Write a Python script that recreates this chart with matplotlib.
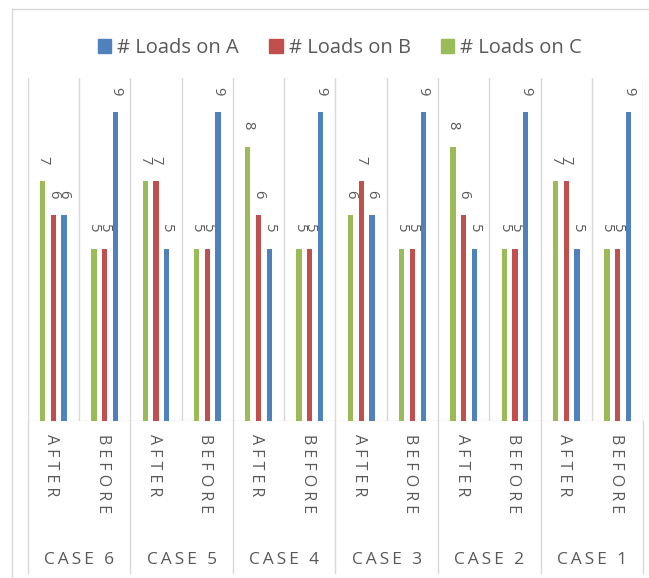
import matplotlib.pyplot as plt
import numpy as np
from matplotlib.lines import Line2D
from matplotlib.transforms import blended_transform_factory

plt.rcParams["font.family"] = ["Open Sans", "DejaVu Sans"]

# categories, left to right
cases = ["CASE 6", "CASE 5", "CASE 4", "CASE 3", "CASE 2", "CASE 1"]
stages = ["AFTER", "BEFORE"]

# loads per category (AFTER / BEFORE for each case)
loads_a = [6, 9, 5, 9, 5, 9, 6, 9, 5, 9, 5, 9]
loads_b = [6, 5, 7, 5, 6, 5, 7, 5, 6, 5, 7, 5]
loads_c = [7, 5, 7, 5, 8, 5, 6, 5, 8, 5, 7, 5]

blue = "#4F81BD"
red = "#C0504D"
green = "#9BBB59"
grid_col = "#D9D9D9"
text_col = "#595959"

fig = plt.figure(figsize=(6.49, 5.78), dpi=100)
W, H = 649, 578
ax_left, ax_right = 27.7, 643.3
ax_top, ax_bottom = 78, 420.6
ax = fig.add_axes([ax_left / W, 1 - ax_bottom / H,
                   (ax_right - ax_left) / W, (ax_bottom - ax_top) / H])

n = len(loads_a)
x = np.arange(n)
bw = 0.103
step = 0.21
series = [(loads_c, green, -step),
          (loads_b, red, 0),
          (loads_a, blue, step)]
for vals, col, off in series:
    bars = ax.bar(x + off, vals, width=bw, color=col, zorder=3)
    for b, v in zip(bars, vals):
        ax.annotate(str(v), (b.get_x() + b.get_width() / 2, v),
                    xytext=(0, 12), textcoords="offset points",
                    rotation=-90, ha="center", va="bottom",
                    fontsize=10.5, color=text_col)

ax.set_xlim(-0.5, n - 0.5)
ax.set_ylim(0, 10)
for k in range(n + 1):
    ax.axvline(k - 0.5, color=grid_col, lw=1.0, zorder=1)
ax.axhline(0, color=grid_col, lw=1.0, zorder=1)
ax.axis("off")

# two-level category axis under the plot
tr = blended_transform_factory(ax.transData, fig.transFigure)
y_axis = 1 - ax_bottom / H
y_end = 1 - 573 / H
for k in range(0, n + 1, 2):
    fig.add_artist(Line2D([k - 0.5, k - 0.5], [y_axis, y_end], transform=tr,
                          color=grid_col, lw=1.0))
for i in range(n):
    lbl = stages[i % 2]
    ax.text(i - 0.04, 1 - 434 / H, " ".join(lbl), transform=tr, rotation=-90,
            ha="center", va="top", fontsize=11.5, color=text_col)
for j, c in enumerate(cases):
    ax.text(2 * j + 0.5, 1 - 560 / H, "\u2009".join(c), transform=tr,
            ha="center", va="center", fontsize=12.5, color=text_col)

# chart frame (top and left edges)
fig.add_artist(Line2D([11.7 / W, 1], [1 - 9 / H, 1 - 9 / H],
                      transform=fig.transFigure, color=grid_col, lw=1.0))
fig.add_artist(Line2D([11.7 / W, 11.7 / W], [0, 1 - 9 / H],
                      transform=fig.transFigure, color=grid_col, lw=1.0))

handles = [plt.Rectangle((0, 0), 1, 1, color=c) for c in (blue, red, green)]
fig.legend(handles, ["# Loads on A", "# Loads on B", "# Loads on C"],
           loc="center", bbox_to_anchor=(340 / W, 1 - 48 / H), ncol=3,
           frameon=False, fontsize=14.5, handlelength=0.65, handleheight=0.65,
           handletextpad=0.3, columnspacing=1.5, labelcolor=text_col)

plt.savefig("out.png", dpi=100)
